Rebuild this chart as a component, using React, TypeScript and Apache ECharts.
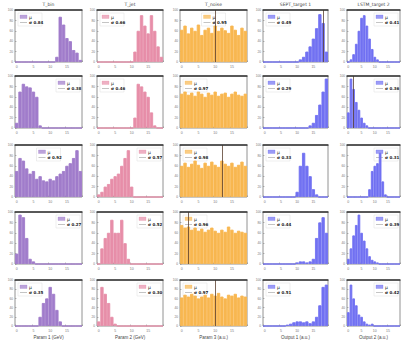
import React, { useEffect, useRef } from "react";
import * as echarts from "echarts";

// Column titles and x-axis names
const colTitles = ["T_bin", "T_jet", "T_noise", "SEPT_target 1", "LSTM_target 2"];
const xNames = ["Param 1 (GeV)", "Param 2 (GeV)", "Param 3 (a.u.)", "Output 1 (a.u.)", "Output 2 (a.u.)"];
const binLabels = ["0", "1", "2", "3", "4", "5", "6", "7", "8", "9", "10", "11", "12", "13", "14", "15", "16", "17", "18", "19"];

// Histogram counts (20 bins per panel), rows 1..5, columns 1..5
const r1c1 = [0, 0, 0, 0, 0, 0, 0, 0, 0, 0, 0, 0, 10, 87, 72, 46, 40, 23, 18, 4];
const r1c2 = [0, 0, 0, 0, 0, 0, 0, 0, 0, 0, 0, 20, 60, 90, 70, 55, 90, 60, 30, 10];
const r1c3 = [62, 70, 55, 66, 60, 72, 52, 62, 66, 56, 70, 60, 66, 61, 56, 70, 62, 52, 66, 60];
const r1c4 = [0, 0, 0, 0, 0, 0, 0, 0, 0, 0, 0, 5, 10, 20, 30, 45, 65, 92, 75, 20];
const r1c5 = [0, 5, 15, 35, 60, 85, 90, 70, 45, 25, 10, 5, 0, 0, 0, 0, 0, 0, 0, 0];

const r2c1 = [10, 70, 85, 80, 78, 70, 60, 5, 0, 0, 0, 0, 0, 0, 0, 0, 0, 0, 0, 0];
const r2c2 = [0, 0, 0, 0, 0, 0, 0, 0, 0, 0, 0, 20, 85, 80, 70, 60, 30, 5, 0, 0];
const r2c3 = [66, 70, 64, 68, 62, 70, 66, 60, 68, 64, 70, 62, 66, 68, 60, 66, 70, 64, 62, 66];
const r2c4 = [0, 0, 0, 0, 0, 0, 0, 0, 0, 0, 0, 0, 0, 0, 5, 10, 25, 45, 70, 95];
const r2c5 = [30, 95, 75, 50, 35, 20, 10, 5, 0, 0, 0, 0, 0, 0, 0, 0, 0, 0, 0, 0];

const r3c1 = [50, 75, 70, 55, 45, 50, 35, 40, 32, 30, 35, 32, 40, 45, 50, 60, 65, 75, 90, 50];
const r3c2 = [5, 10, 20, 25, 35, 40, 45, 60, 75, 90, 20, 0, 0, 0, 0, 0, 0, 0, 0, 0];
const r3c3 = [60, 66, 58, 64, 70, 62, 56, 66, 60, 68, 62, 58, 70, 64, 60, 66, 58, 62, 68, 60];
const r3c4 = [0, 0, 0, 0, 0, 0, 0, 0, 0, 0, 10, 60, 85, 60, 40, 15, 5, 0, 0, 0];
const r3c5 = [0, 0, 0, 0, 0, 0, 0, 0, 15, 50, 60, 65, 85, 30, 5, 0, 0, 0, 0, 0];

const r4c1 = [20, 95, 90, 50, 10, 5, 0, 0, 0, 0, 0, 0, 0, 0, 0, 0, 0, 0, 0, 0];
const r4c2 = [0, 30, 50, 60, 85, 60, 60, 85, 40, 10, 0, 0, 0, 0, 0, 0, 0, 0, 0, 0];
const r4c3 = [75, 70, 72, 66, 70, 64, 68, 62, 66, 70, 64, 60, 66, 62, 72, 66, 60, 64, 62, 60];
const r4c4 = [0, 0, 0, 0, 0, 0, 0, 0, 0, 0, 3, 5, 5, 3, 5, 10, 50, 80, 90, 60];
const r4c5 = [10, 30, 55, 75, 95, 60, 45, 30, 15, 8, 5, 3, 0, 0, 0, 0, 0, 0, 0, 0];

const r5c1 = [0, 0, 0, 0, 0, 0, 0, 20, 50, 60, 85, 70, 35, 10, 0, 0, 0, 0, 0, 0];
const r5c2 = [10, 85, 70, 50, 20, 5, 0, 0, 0, 0, 0, 0, 0, 0, 0, 0, 0, 0, 0, 0];
const r5c3 = [62, 68, 64, 70, 66, 60, 64, 68, 62, 70, 66, 72, 64, 60, 68, 66, 70, 62, 66, 64];
const r5c4 = [0, 0, 0, 0, 0, 0, 0, 3, 5, 8, 10, 10, 8, 10, 6, 10, 20, 45, 85, 90];
const r5c5 = [30, 90, 60, 45, 25, 20, 10, 5, 3, 5, 0, 0, 0, 0, 0, 0, 0, 0, 0, 0];

const panels = [
  [r1c1, r1c2, r1c3, r1c4, r1c5],
  [r2c1, r2c2, r2c3, r2c4, r2c5],
  [r3c1, r3c2, r3c3, r3c4, r3c5],
  [r4c1, r4c2, r4c3, r4c4, r4c5],
  [r5c1, r5c2, r5c3, r5c4, r5c5],
];

// Mean lines (bin index) per panel; null = none
const meanLines = [
  [null, null, 10, 18, null],
  [null, null, null, null, 2],
  [null, null, 12, null, null],
  [null, null, 2, null, null],
  [null, null, 10, null, null],
];

// Legend sigma values per panel
const sigmaTexts = [
  ["0.84", "0.66", "0.95", "0.49", "0.41"],
  ["0.38", "0.46", "0.97", "0.29", "0.36"],
  ["0.92", "0.57", "0.98", "0.33", "0.31"],
  ["0.27", "0.52", "0.96", "0.44", "0.39"],
  ["0.35", "0.30", "0.97", "0.51", "0.42"],
];
// Legend anchor per panel: l = left, c = centre, r = right
const legendPos = [
  ["l", "l", "c", "l", "r"],
  ["r", "l", "l", "l", "r"],
  ["c", "r", "l", "l", "r"],
  ["r", "r", "l", "l", "r"],
  ["l", "r", "l", "l", "r"],
];

const colFill = ["#a07ccb", "#e78ea9", "#f8b750", "#7171f2", "#7171f2"];

const colLeft = [15, 97, 180, 263, 347];
const colWidth = [67, 66, 67, 65, 53];
const rowTop = [10, 76, 145, 212, 280];
const panelH = 52;

export default function App() {
  const ref = useRef<HTMLDivElement>(null);
  useEffect(() => {
    const chart = echarts.init(ref.current!, null, { renderer: "svg" });
    const grid: any[] = [];
    const xAxis: any[] = [];
    const yAxis: any[] = [];
    const series: any[] = [];
    const graphic: any[] = [];
    let idx = 0;
    for (let r = 0; r < 5; r++) {
      for (let c = 0; c < 5; c++) {
        const left = colLeft[c];
        const top = rowTop[r];
        const w = colWidth[c];
        grid.push({ left, top, width: w, height: panelH, show: true, borderColor: "#777", borderWidth: 0.8, backgroundColor: "#fff" });
        xAxis.push({
          type: "category",
          gridIndex: idx,
          data: binLabels,
          boundaryGap: true,
          axisLine: { show: false },
          axisTick: { show: true, length: 1.5, inside: true, interval: 4, lineStyle: { color: "#777", width: 0.5 } },
          axisLabel: { show: true, interval: 4, fontSize: 3.5, color: "#777", margin: 3 },
          name: r === 4 ? xNames[c] : "",
          nameLocation: "middle",
          nameGap: 9,
          nameTextStyle: { fontSize: 4.5, color: "#444" },
        });
        yAxis.push({
          type: "value",
          gridIndex: idx,
          min: 0,
          max: 100,
          interval: 20,
          axisLine: { show: false },
          axisTick: { show: true, inside: true, length: 1.5, lineStyle: { color: "#777", width: 0.5 } },
          axisLabel: { show: true, fontSize: 3.2, color: "#777", margin: 2 },
          splitLine: { show: false },
        });
        const ml = meanLines[r][c];
        series.push({
          type: "bar",
          xAxisIndex: idx,
          yAxisIndex: idx,
          data: panels[r][c],
          barCategoryGap: "0%",
          itemStyle: { color: colFill[c], opacity: 1, borderColor: colFill[c], borderWidth: 0.9 },
          markLine: ml === null ? undefined : {
            silent: true,
            symbol: "none",
            label: { show: false },
            lineStyle: { color: "#5a4030", width: 0.8, type: "solid" },
            data: [{ xAxis: ml }],
          },
        });
        // top spine darker
        graphic.push({
          type: "line",
          shape: { x1: left - 0.5, y1: top, x2: left + w + 0.5, y2: top },
          style: { stroke: "#333", lineWidth: 1.5 },
          z: 100,
        });
        // legend box
        const lw = 24;
        const pos = legendPos[r][c];
        const lx = pos === "l" ? left + 3 : pos === "r" ? left + w - lw - 2 : left + (w - lw) / 2;
        const ly = top + 3;
        graphic.push({
          type: "group",
          x: lx,
          y: ly,
          z: 110,
          children: [
            { type: "rect", shape: { x: 0, y: 0, width: lw, height: 13 }, style: { fill: "rgba(255,255,255,0.85)", stroke: "#ddd", lineWidth: 0.5 } },
            { type: "rect", shape: { x: 2, y: 2, width: 7, height: 3.5 }, style: { fill: colFill[c], opacity: 0.7, stroke: colFill[c], lineWidth: 0.4 } },
            { type: "text", x: 11, y: 1.5, style: { text: "μ", fontSize: 4.5, fill: "#222", fontFamily: "DejaVu Sans" } },
            { type: "line", shape: { x1: 2, y1: 9.5, x2: 9, y2: 9.5 }, style: { stroke: "#888", lineWidth: 0.5 } },
            { type: "text", x: 11, y: 7.5, style: { text: "σ " + sigmaTexts[r][c], fontSize: 4, fill: "#222", fontWeight: "bold", fontFamily: "DejaVu Sans" } },
          ],
        });
        if (r === 0) {
          graphic.push({
            type: "text",
            x: left + w / 2,
            y: 2,
            style: { text: colTitles[c], fontSize: 4.5, fill: "#444", textAlign: "center", fontFamily: "DejaVu Sans" },
          });
        }
        idx++;
      }
    }
    chart.setOption({
      animation: false,
      backgroundColor: "#fff",
      grid,
      xAxis,
      yAxis,
      series,
      graphic,
    });
    return () => chart.dispose();
  }, []);
  return <div ref={ref} style={{ position: "fixed", left: 0, top: 0, width: 407, height: 341 }} />;
}
